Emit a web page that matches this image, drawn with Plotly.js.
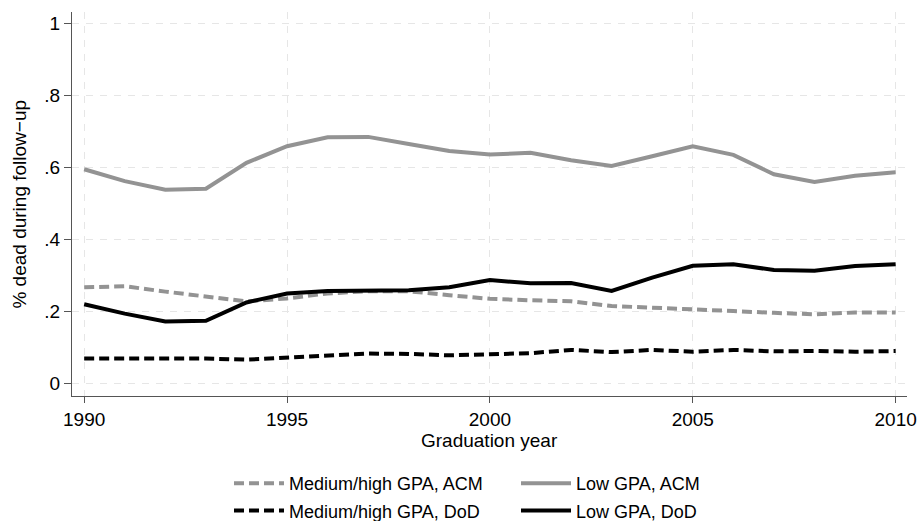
<!DOCTYPE html>
<html>
<head>
<meta charset="utf-8">
<script src="https://cdn.plot.ly/plotly-3.0.1.min.js"></script>
<style>html,body{margin:0;padding:0;background:#fff;}#chart{width:919px;height:521px;}</style>
</head>
<body>
<div id="chart"></div>
<script>
var years = [1990,1991,1992,1993,1994,1995,1996,1997,1998,1999,2000,2001,2002,2003,2004,2005,2006,2007,2008,2009,2010];
var medHighACM = [0.267,0.270,0.255,0.241,0.228,0.236,0.250,0.256,0.256,0.245,0.235,0.231,0.228,0.215,0.211,0.206,0.201,0.196,0.192,0.197,0.197];
var lowACM = [0.595,0.562,0.538,0.541,0.613,0.659,0.684,0.685,0.665,0.646,0.636,0.641,0.620,0.604,0.631,0.659,0.635,0.581,0.560,0.577,0.587];
var medHighDoD = [0.069,0.069,0.068,0.069,0.066,0.071,0.076,0.083,0.082,0.078,0.081,0.084,0.093,0.087,0.093,0.088,0.093,0.089,0.090,0.088,0.090];
var lowDoD = [0.220,0.194,0.172,0.174,0.225,0.250,0.257,0.257,0.259,0.267,0.287,0.278,0.279,0.257,0.294,0.327,0.331,0.315,0.313,0.326,0.331];
var xTicks = [1990,1995,2000,2005,2010];
var yTicks = [0,0.2,0.4,0.6,0.8,1];
var yTickText = ['0','.2','.4','.6','.8','1'];
var names = ['Medium/high GPA, ACM','Low GPA, ACM','Medium/high GPA, DoD','Low GPA, DoD'];
var xTitle = 'Graduation year';
var yTitle = '% dead during follow\u2212up';

var gray = '#939393';
var black = '#000000';
var FONT = 'Liberation Sans, Arial, sans-serif';

var traces = [
  {x: years, y: medHighACM, name: names[0], legend: 'legend', legendgroup: 'a',
   line: {color: gray, width: 4, dash: '10px,5px'}},
  {x: years, y: lowACM, name: names[1], legend: 'legend2', legendgroup: 'b',
   line: {color: gray, width: 4}},
  {x: years, y: medHighDoD, name: names[2], legend: 'legend', legendgroup: 'c',
   line: {color: black, width: 4, dash: '10px,5px'}},
  {x: years, y: lowDoD, name: names[3], legend: 'legend2', legendgroup: 'd',
   line: {color: black, width: 4}}
].map(function(t){ t.type = 'scatter'; t.mode = 'lines'; return t; });

var legendBase = {
  xref: 'container', yref: 'container', yanchor: 'top', xanchor: 'left',
  bgcolor: 'rgba(0,0,0,0)', borderwidth: 0,
  font: {family: FONT, size: 18, color: '#000'},
  itemwidth: 50, tracegroupgap: 1, traceorder: 'grouped'
};

var layout = {
  width: 919, height: 521,
  margin: {l: 72, r: 12, t: 12, b: 125, autoexpand: false},
  paper_bgcolor: '#fff', plot_bgcolor: '#fff',
  font: {family: FONT, size: 19, color: '#000'},
  showlegend: true,
  xaxis: {
    range: [1989.7, 2010.28], tickvals: xTicks, ticktext: xTicks.map(String),
    showline: true, linecolor: '#555', linewidth: 1,
    ticks: 'outside', ticklen: 6, tickcolor: '#555',
    showgrid: true, gridcolor: '#e6e6e6', griddash: '7px,7px', gridwidth: 1,
    zeroline: false,
    tickfont: {size: 19}
  },
  yaxis: {
    range: [-0.035, 1.032], tickvals: yTicks, ticktext: yTickText,
    showline: true, linecolor: '#555', linewidth: 1,
    ticks: 'outside', ticklen: 7, tickcolor: '#555',
    showgrid: true, gridcolor: '#e6e6e6', griddash: '7px,7px', gridwidth: 1,
    zeroline: false,
    tickfont: {size: 19}
  },
  annotations: [
    {text: yTitle, xref: 'paper', yref: 'paper', x: -0.064, y: 0.5,
     xanchor: 'center', yanchor: 'middle', textangle: -90, showarrow: false,
     font: {family: FONT, size: 19, color: '#000'}},
    {text: xTitle, xref: 'paper', yref: 'paper', x: 0.5, y: -0.116,
     xanchor: 'center', yanchor: 'middle', showarrow: false,
     font: {family: FONT, size: 19, color: '#000'}}
  ],
  legend: Object.assign({}, legendBase, {x: 229/919, y: 1 - 465/521}),
  legend2: Object.assign({}, legendBase, {x: 516/919, y: 1 - 465/521})
};

Plotly.newPlot('chart', traces, layout, {staticPlot: true, displayModeBar: false});
</script>
</body>
</html>
